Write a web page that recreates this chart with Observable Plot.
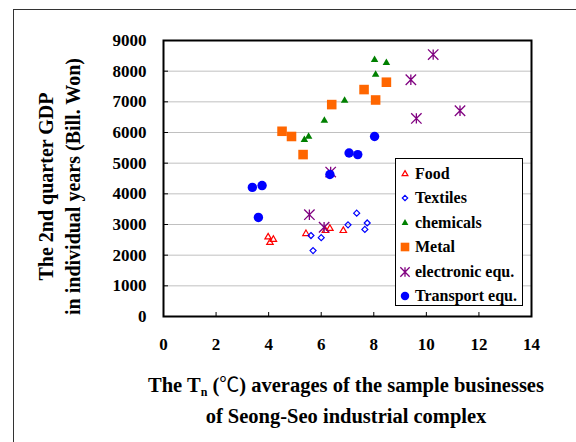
<!DOCTYPE html>
<html><head><meta charset="utf-8">
<script src="https://cdn.jsdelivr.net/npm/d3@7"></script>
<script src="https://cdn.jsdelivr.net/npm/@observablehq/plot@0.6"></script>
<style>
body{margin:0;background:#fff;overflow:hidden;}
#wrap{position:relative;width:576px;height:442px;overflow:hidden;font-family:"Liberation Serif","Times New Roman",serif;font-weight:bold;color:#000;}
#wrap svg.plot{position:absolute;left:0;top:0;}
#border{position:absolute;left:13px;top:9px;width:700px;height:600px;border-left:1px solid #333;border-top:1px solid #333;}
#xtitle{position:absolute;left:96px;width:500px;top:370px;text-align:center;font-size:20.5px;line-height:28px;white-space:nowrap;}
#xtitle sub{font-size:12px;vertical-align:baseline;position:relative;top:4px;}
#xtitle .deg{font-family:"Noto Sans CJK KR","DejaVu Sans",sans-serif;font-weight:normal;font-size:20px;}
#legend{position:absolute;left:395px;top:158px;width:126px;height:146px;border:1px solid #000;background:#fff;}
.row{position:absolute;left:0;height:20px;font-size:16px;line-height:20px;white-space:nowrap;}
.row svg{position:absolute;left:3px;top:0;}
.row span{position:absolute;left:19px;top:0;}
</style></head>
<body>
<div id="wrap"><div id="border"></div></div>
<script>
// ---- data ----
const seriesNames = ["Food", "Textiles", "chemicals", "Metal", "electronic equ.", "Transport equ."];
const foodT   = [3.98, 4.18, 4.05, 5.42, 6.16, 6.33, 6.84];
const foodGDP = [2590, 2510, 2410, 2700, 2800, 2870, 2800];
const textT   = [5.61, 5.69, 6.00, 7.02, 7.35, 7.66, 7.75];
const textGDP = [2640, 2150, 2570, 2990, 3370, 2840, 3050];
const chemT   = [8.03, 8.48, 8.07, 6.89, 6.12, 5.52, 5.36];
const chemGDP = [8370, 8270, 7890, 7040, 6390, 5870, 5760];
const metalT   = [4.51, 4.87, 5.31, 6.40, 7.63, 8.07, 8.48];
const metalGDP = [6040, 5870, 5280, 6910, 7400, 7060, 7640];
const elecT   = [10.26, 9.41, 9.62, 11.28, 6.36, 5.55, 6.11];
const elecGDP = [8540, 7720, 6460, 6710, 4710, 3320, 2910];
const transT   = [3.38, 3.75, 3.61, 6.33, 7.06, 7.39, 8.03];
const transGDP = [4210, 4270, 3230, 4630, 5330, 5280, 5870];
const xTicks = [0, 2, 4, 6, 8, 10, 12, 14];
const xMinorTicks = [2, 4, 6, 8, 10, 12];
const yTicks = [0, 1000, 2000, 3000, 4000, 5000, 6000, 7000, 8000, 9000];
const yGrid = [1000, 2000, 3000, 4000, 5000, 6000, 7000, 8000];
const yTitle = "The 2nd quarter GDP\nin individual years (Bill. Won)";

const seriesT = [foodT, textT, chemT, metalT, elecT, transT];
const seriesGDP = [foodGDP, textGDP, chemGDP, metalGDP, elecGDP, transGDP];
const table = seriesNames.flatMap((s, i) => seriesT[i].map((t, j) => ({series: s, t, gdp: seriesGDP[i][j]})));

// ---- styles ----
const star = {draw(ctx, size) {
  const h = Math.sqrt(size / Math.PI);
  ctx.moveTo(0, -h); ctx.lineTo(0, h);
  ctx.moveTo(-h, -h); ctx.lineTo(h, h);
  ctx.moveTo(-h, h); ctx.lineTo(h, -h);
}};
const styles = [
  {sym: d3.symbolTriangle, r: 2.4, fill: "none", stroke: "#ff0000", sw: 1.2},
  {sym: d3.symbolDiamond2, r: 2.7, fill: "none", stroke: "#0000ff", sw: 1.2},
  {sym: d3.symbolTriangle, r: 2.8, fill: "#008000", stroke: "none", sw: 0},
  {sym: d3.symbolSquare, r: 5.4, fill: "#ff6600", stroke: "none", sw: 0},
  {sym: star, r: 5.2, fill: "none", stroke: "#800080", sw: 1.3},
  {sym: d3.symbolCircle, r: 4.7, fill: "#0000ff", stroke: "none", sw: 0}
];

const marks = [
  Plot.gridY(yGrid, {stroke: "#c0c0c0", strokeOpacity: 1, strokeWidth: 1}),
  ...seriesNames.map((s, i) => Plot.dot(table.filter(d => d.series === s), {
    x: "t", y: "gdp", symbol: styles[i].sym, r: styles[i].r,
    fill: styles[i].fill, stroke: styles[i].stroke, strokeWidth: styles[i].sw
  })),
  Plot.axisY({ticks: yTicks, tickSize: 0, tickPadding: 17, tickFormat: d => String(d), label: null, fontSize: 17}),
  Plot.axisY({ticks: yTicks, tickSize: 5, dx: 5, tickFormat: () => "", label: null}),
  Plot.axisX({ticks: xTicks, tickSize: 0, tickPadding: 21, tickFormat: d => String(d), label: null, fontSize: 17}),
  Plot.axisX({ticks: xMinorTicks, tickSize: 4, dy: -4, tickFormat: () => "", label: null}),
  Plot.text([yTitle], {text: d => d, frameAnchor: "left", textAnchor: "middle", lineAnchor: "middle", rotate: -90, dx: -106, dy: 8, fontSize: 20, lineHeight: 1.35, fontWeight: "bold"}),
  Plot.frame({stroke: "#000", strokeWidth: 2})
];

const chart = Plot.plot({
  width: 576, height: 442,
  marginLeft: 163, marginRight: 45, marginTop: 40, marginBottom: 126,
  x: {domain: [0, 14]},
  y: {domain: [0, 9000]},
  style: {fontFamily: "'Liberation Serif','Times New Roman',serif", fontWeight: "bold", fontSize: "17px", color: "#000", background: "transparent"},
  marks
});
chart.classList.add("plot");
const wrap = document.getElementById("wrap");
wrap.appendChild(chart);

// x-axis title (with subscript)
const xt = document.createElement("div");
xt.id = "xtitle";
xt.innerHTML = 'The T<sub>n</sub> (<span class="deg">℃</span>) averages of the sample businesses<br>of Seong-Seo industrial complex';
wrap.appendChild(xt);

// legend
const lg = document.createElement("div");
lg.id = "legend";
seriesNames.forEach((s, i) => {
  const row = document.createElement("div");
  row.className = "row";
  row.style.top = (5 + i * 24.4) + "px";
  const st = styles[i];
  const path = d3.symbol(st.sym, Math.PI * (st.r * 0.9) ** 2)();
  row.innerHTML = `<svg width="12" height="20"><path transform="translate(6,10)" d="${path}" fill="${st.fill}" stroke="${st.stroke}" stroke-width="${st.sw}"/></svg><span>${s}</span>`;
  lg.appendChild(row);
});
wrap.appendChild(lg);
</script>
</body></html>
